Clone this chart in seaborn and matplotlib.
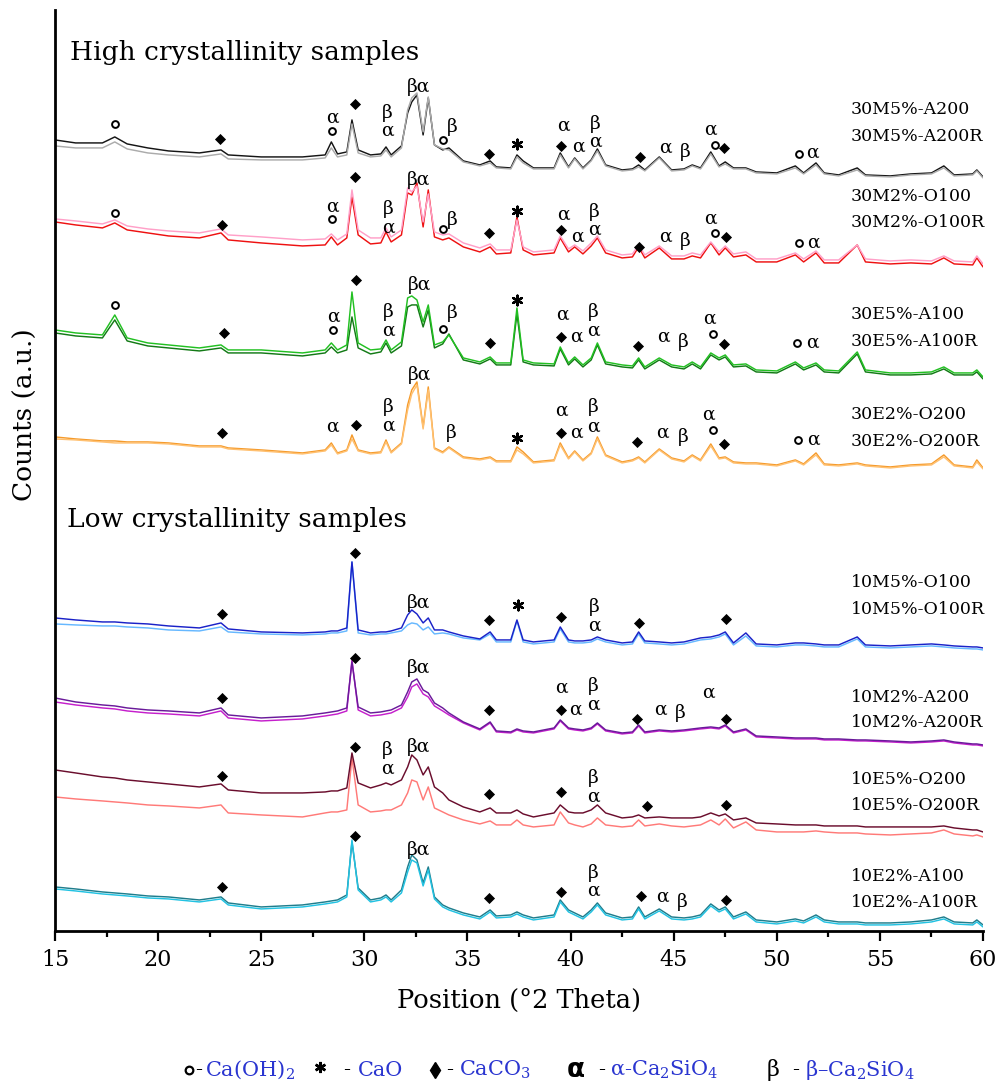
import numpy as np
import pandas as pd
import seaborn as sns
import matplotlib
matplotlib.use('Agg')
import matplotlib.pyplot as plt
from matplotlib.ticker import MultipleLocator
from matplotlib.lines import Line2D

# diffraction angle grid (deg 2 theta) shared by all traces
two_theta = [15, 16, 17.3, 17.9, 18.5, 19.5, 20.5, 22, 23.05, 23.4,
             25, 27, 28.1, 28.4, 28.7, 29.15, 29.4, 29.7, 30.3, 30.8,
             31.05, 31.3, 31.8, 32.1, 32.3, 32.55, 32.85, 33.1, 33.4, 33.8,
             34.1, 34.8, 35.6, 36.1, 36.4, 37.1, 37.4, 37.7, 38.2, 39.2,
             39.5, 39.9, 40.2, 40.6, 41.0, 41.3, 41.7, 42.5, 43.0, 43.3,
             43.6, 44.3, 44.9, 45.5, 45.9, 46.3, 46.8, 47.2, 47.5, 47.9,
             48.5, 49.0, 50.0, 50.9, 51.3, 51.9, 52.3, 53.0, 53.9, 54.3,
             55.5, 56.5, 57.5, 58.1, 58.6, 59.5, 59.7, 60]

# counts (a.u., stacked)
c_30M5_A200 = [860, 857, 857, 863, 856, 852, 849, 847, 850, 845,
               843, 843, 845, 858, 846, 848, 880, 850, 845, 846,
               853, 845, 854, 887, 898, 905, 865, 902, 855, 850,
               852, 839, 835, 839, 833, 832, 845, 839, 832, 832,
               847, 833, 842, 832, 840, 851, 835, 830, 831, 835,
               830, 843, 830, 831, 835, 832, 848, 834, 838, 832,
               832, 828, 827, 834, 827, 837, 827, 825, 832, 825,
               824, 826, 827, 834, 825, 826, 830, 823]
c_30M5_A200R = [854, 852, 852, 858, 851, 847, 845, 843, 846, 841,
                840, 840, 842, 852, 843, 845, 876, 847, 843, 844,
                850, 843, 852, 890, 902, 907, 868, 903, 855, 851,
                850, 838, 834, 837, 832, 831, 843, 837, 831, 831,
                845, 832, 841, 831, 839, 849, 834, 829, 830, 833,
                829, 842, 829, 830, 834, 831, 846, 833, 836, 831,
                831, 827, 826, 832, 826, 835, 826, 824, 830, 824,
                823, 825, 826, 832, 824, 825, 829, 822]
c_30M2_O100 = [778, 775, 772, 777, 770, 767, 764, 762, 767, 760,
               757, 754, 755, 763, 755, 762, 803, 765, 756, 757,
               768, 758, 765, 807, 805, 817, 773, 810, 763, 760,
               762, 753, 748, 753, 746, 747, 783, 750, 745, 747,
               762, 748, 753, 746, 754, 762, 747, 742, 743, 753,
               742, 752, 741, 741, 744, 742, 757, 745, 752, 743,
               745, 738, 738, 745, 738, 747, 737, 737, 755, 738,
               736, 737, 736, 742, 736, 735, 742, 733]
c_30M2_O100R = [781, 779, 776, 780, 774, 771, 769, 767, 771, 765,
                763, 760, 761, 766, 760, 766, 810, 770, 762, 762,
                772, 763, 770, 812, 808, 814, 778, 806, 768, 765,
                766, 757, 752, 756, 750, 750, 780, 753, 748, 750,
                764, 751, 755, 749, 757, 764, 750, 745, 746, 755,
                745, 754, 744, 744, 747, 745, 758, 748, 754, 746,
                748, 741, 741, 747, 741, 749, 740, 740, 755, 741,
                739, 740, 739, 744, 739, 738, 744, 736]
c_30E5_A100 = [670, 667, 665, 685, 662, 657, 655, 652, 655, 650,
               650, 647, 650, 657, 650, 655, 708, 657, 650, 651,
               660, 650, 658, 702, 704, 700, 678, 695, 655, 658,
               665, 642, 638, 643, 637, 637, 692, 640, 637, 636,
               653, 637, 643, 635, 642, 657, 638, 635, 634, 642,
               633, 642, 635, 633, 638, 633, 647, 642, 645, 635,
               636, 630, 629, 638, 632, 637, 630, 629, 648, 630,
               627, 627, 628, 633, 627, 627, 630, 623]
c_30E5_A100R = [667, 664, 662, 680, 659, 654, 652, 649, 652, 647,
                647, 644, 647, 653, 647, 650, 683, 652, 646, 648,
                657, 647, 654, 693, 695, 695, 673, 690, 652, 656,
                666, 640, 636, 641, 635, 635, 686, 638, 635, 634,
                651, 635, 641, 633, 640, 655, 636, 633, 632, 640,
                631, 640, 633, 631, 636, 631, 645, 640, 643, 633,
                634, 628, 627, 636, 630, 635, 628, 627, 646, 628,
                625, 625, 626, 631, 625, 625, 628, 621]
c_30E2_O200 = [563, 561, 559, 559, 558, 558, 557, 554, 554, 552,
               550, 547, 550, 557, 547, 550, 565, 550, 547, 548,
               560, 548, 557, 595, 610, 618, 573, 613, 552, 548,
               553, 543, 541, 543, 539, 539, 553, 548, 538, 540,
               557, 542, 549, 540, 547, 563, 545, 538, 540, 543,
               538, 551, 542, 539, 545, 540, 556, 542, 543, 538,
               537, 537, 535, 540, 536, 547, 536, 535, 537, 535,
               533, 535, 536, 545, 535, 533, 540, 532]
c_30E2_O200R = [561, 560, 558, 557, 557, 557, 556, 553, 553, 551,
                549, 546, 549, 555, 546, 549, 561, 549, 546, 547,
                558, 547, 556, 590, 606, 615, 571, 610, 551, 547,
                552, 542, 540, 542, 538, 538, 550, 546, 537, 539,
                555, 541, 548, 539, 546, 561, 544, 537, 539, 542,
                537, 550, 541, 538, 544, 539, 554, 541, 542, 537,
                536, 536, 534, 539, 535, 545, 535, 534, 536, 534,
                532, 534, 535, 543, 534, 532, 538, 531]
c_10M5_O100 = [382, 380, 378, 378, 377, 376, 374, 372, 377, 371,
               368, 367, 368, 369, 369, 372, 438, 370, 367, 368,
               368, 369, 372, 385, 390, 386, 377, 382, 370, 370,
               368, 364, 361, 368, 360, 360, 380, 360, 358, 360,
               373, 360, 359, 359, 360, 363, 360, 357, 358, 368,
               359, 358, 357, 358, 360, 362, 363, 365, 368, 357,
               367, 356, 355, 357, 357, 356, 355, 355, 363, 355,
               354, 355, 356, 355, 354, 353, 353, 352]
c_10M5_O100R = [376, 375, 374, 374, 373, 372, 370, 369, 373, 368,
                366, 365, 366, 367, 367, 369, 438, 367, 365, 366,
                366, 367, 369, 375, 377, 376, 370, 373, 366, 367,
                366, 362, 360, 366, 358, 358, 379, 358, 356, 358,
                371, 358, 357, 357, 358, 361, 358, 355, 356, 366,
                357, 356, 355, 356, 358, 360, 361, 363, 366, 355,
                364, 354, 353, 355, 355, 354, 353, 353, 361, 353,
                352, 353, 354, 353, 352, 351, 351, 350]
c_10M2_A200 = [302, 298, 295, 294, 292, 290, 289, 287, 292, 285,
               282, 284, 287, 288, 289, 292, 338, 293, 287, 288,
               289, 290, 295, 308, 318, 321, 310, 307, 297, 292,
               287, 278, 271, 278, 269, 268, 271, 269, 268, 272,
               280, 272, 271, 270, 272, 277, 270, 267, 268, 275,
               268, 270, 269, 270, 271, 272, 273, 272, 275, 268,
               271, 264, 263, 262, 262, 262, 261, 261, 260, 260,
               259, 258, 259, 260, 258, 256, 256, 255]
c_10M2_A200R = [298, 295, 292, 291, 289, 287, 286, 284, 289, 282,
                279, 281, 284, 285, 286, 289, 340, 290, 284, 285,
                286, 287, 292, 303, 313, 316, 306, 303, 294, 289,
                285, 277, 270, 277, 268, 267, 270, 268, 267, 271,
                279, 271, 270, 269, 271, 276, 269, 266, 267, 274,
                267, 269, 268, 269, 270, 271, 272, 271, 274, 267,
                270, 263, 262, 261, 261, 261, 260, 260, 259, 259,
                258, 257, 258, 259, 257, 255, 255, 254]
c_10E5_O200 = [230, 227, 223, 222, 220, 218, 216, 213, 216, 210,
               207, 207, 208, 209, 209, 212, 247, 217, 212, 215,
               217, 215, 220, 233, 245, 240, 225, 233, 213, 207,
               200, 193, 188, 192, 187, 187, 190, 186, 183, 187,
               195, 188, 187, 187, 190, 195, 187, 182, 183, 185,
               182, 183, 182, 182, 182, 183, 187, 184, 186, 180,
               182, 177, 176, 175, 175, 175, 174, 174, 174, 173,
               173, 173, 173, 174, 172, 170, 170, 168]
c_10E5_O200R = [203, 201, 199, 198, 197, 195, 194, 192, 195, 187,
                185, 183, 187, 188, 188, 190, 242, 195, 188, 189,
                190, 190, 195, 207, 220, 218, 200, 213, 192, 188,
                185, 180, 176, 179, 175, 175, 180, 175, 173, 175,
                188, 177, 175, 173, 176, 182, 175, 173, 174, 180,
                174, 176, 174, 173, 174, 175, 180, 175, 181, 172,
                178, 170, 168, 168, 168, 169, 168, 167, 167, 166,
                165, 166, 167, 170, 166, 164, 165, 163]
c_10E2_A100 = [113, 111, 108, 107, 106, 104, 103, 100, 103, 97,
               93, 95, 98, 99, 100, 105, 158, 112, 100, 102,
               105, 100, 110, 133, 145, 140, 117, 133, 103, 95,
               92, 87, 83, 90, 84, 85, 88, 85, 82, 85,
               100, 90, 87, 83, 90, 97, 87, 82, 83, 93,
               83, 91, 83, 82, 83, 85, 96, 90, 93, 83,
               88, 80, 78, 81, 79, 85, 80, 78, 78, 77,
               77, 78, 80, 83, 78, 77, 80, 75]
c_10E2_A100R = [111, 109, 106, 105, 104, 102, 101, 98, 101, 95,
                91, 93, 96, 97, 98, 103, 160, 110, 98, 100,
                103, 98, 107, 128, 140, 137, 114, 130, 101, 93,
                90, 85, 81, 88, 82, 83, 86, 83, 80, 83,
                98, 88, 85, 81, 88, 95, 85, 80, 81, 91,
                81, 89, 81, 80, 81, 83, 94, 88, 91, 81,
                86, 78, 76, 79, 77, 83, 78, 76, 76, 75,
                75, 76, 78, 81, 76, 75, 78, 73]

# phase marks: (2 theta, counts, mark)
ann_30M5 = [(17.91, 876, 'o'), (23.0, 861, 'D'), (28.45, 882, 'α'), (28.45, 869, 'o'),
            (29.55, 896, 'D'), (31.1, 887, 'β'), (31.1, 869, 'α'), (32.65, 913, 'βα'),
            (33.82, 860, 'o'), (34.25, 873, 'β'), (36.05, 846, 'D'), (37.41, 856, '*'),
            (39.64, 874, 'α'), (39.54, 854, 'D'), (40.36, 853, 'α'), (41.19, 876, 'β'),
            (41.19, 858, 'α'), (43.37, 843, 'D'), (44.58, 852, 'α'), (45.55, 848, 'β'),
            (46.77, 870, 'α'), (47.01, 855, 'o'), (47.44, 852, 'D'), (51.08, 846, 'o'),
            (51.71, 847, 'α')]
ann_30M2 = [(17.91, 787, 'o'), (23.1, 775, 'D'), (28.43, 793, 'α'), (28.43, 781, 'o'),
            (29.55, 823, 'D'), (31.15, 791, 'β'), (31.15, 772, 'α'), (32.65, 820, 'βα'),
            (33.82, 771, 'o'), (34.25, 780, 'β'), (36.05, 767, 'D'), (37.41, 789, '*'),
            (39.64, 785, 'α'), (39.54, 770, 'D'), (40.32, 763, 'α'), (41.14, 788, 'β'),
            (41.14, 770, 'α'), (43.32, 753, 'D'), (44.58, 763, 'α'), (45.55, 759, 'β'),
            (46.77, 781, 'α'), (47.01, 767, 'o'), (47.54, 763, 'D'), (51.08, 757, 'o'),
            (51.76, 757, 'α')]
ann_30E5 = [(17.91, 695, 'o'), (23.2, 667, 'D'), (28.48, 683, 'α'), (28.48, 670, 'o'),
            (29.6, 720, 'D'), (31.15, 688, 'β'), (31.15, 669, 'α'), (32.7, 715, 'βα'),
            (33.82, 671, 'o'), (34.25, 687, 'β'), (36.08, 657, 'D'), (37.41, 700, '*'),
            (39.59, 685, 'α'), (39.54, 663, 'D'), (40.27, 663, 'α'), (41.09, 688, 'β'),
            (41.09, 669, 'α'), (43.27, 654, 'D'), (44.49, 663, 'α'), (45.46, 658, 'β'),
            (46.72, 681, 'α'), (46.91, 666, 'o'), (47.44, 656, 'D'), (50.98, 657, 'o'),
            (51.71, 657, 'α')]
ann_30E2 = [(23.1, 567, 'D'), (28.43, 573, 'α'), (29.6, 575, 'D'), (31.15, 593, 'β'),
            (31.15, 574, 'α'), (32.7, 625, 'βα'), (34.2, 567, 'β'), (37.41, 562, '*'),
            (39.54, 589, 'α'), (39.54, 567, 'D'), (40.27, 567, 'α'), (41.09, 593, 'β'),
            (41.09, 573, 'α'), (43.23, 558, 'D'), (44.44, 567, 'α'), (45.46, 563, 'β'),
            (46.67, 585, 'α'), (46.91, 570, 'o'), (47.44, 556, 'D'), (51.03, 560, 'o'),
            (51.76, 560, 'α')]
ann_10M5 = [(23.1, 386, 'D'), (29.55, 447, 'D'), (32.65, 397, 'βα'), (36.05, 380, 'D'),
            (37.45, 395, '*'), (39.54, 383, 'D'), (41.14, 393, 'β'), (41.14, 374, 'α'),
            (43.32, 377, 'D'), (47.54, 381, 'D')]
ann_10M2 = [(23.1, 302, 'D'), (29.55, 342, 'D'), (32.65, 332, 'βα'), (36.05, 290, 'D'),
            (39.54, 312, 'α'), (39.54, 290, 'D'), (40.22, 290, 'α'), (41.09, 314, 'β'),
            (41.09, 295, 'α'), (43.23, 281, 'D'), (44.34, 290, 'α'), (45.31, 287, 'β'),
            (46.67, 307, 'α'), (47.54, 281, 'D')]
ann_10E5 = [(23.1, 224, 'D'), (29.55, 253, 'D'), (31.1, 250, 'β'), (31.1, 231, 'α'),
            (32.65, 253, 'βα'), (36.05, 206, 'D'), (39.54, 208, 'D'), (41.09, 222, 'β'),
            (41.09, 203, 'α'), (43.71, 194, 'D'), (47.54, 195, 'D')]
ann_10E2 = [(23.1, 113, 'D'), (29.55, 164, 'D'), (32.65, 150, 'βα'), (36.05, 102, 'D'),
            (39.54, 108, 'D'), (41.09, 127, 'β'), (41.09, 109, 'α'), (43.42, 104, 'D'),
            (44.44, 103, 'α'), (45.41, 98, 'β'), (47.54, 100, 'D')]

# sample names and label heights (counts)
sample_names = ['30M5%-A200', '30M2%-O100', '30E5%-A100', '30E2%-O200',
                '10M5%-O100', '10M2%-A200', '10E5%-O200', '10E2%-A100']
label_y = [890, 803, 685, 585, 417, 302, 220, 123]
label_y_r = [863, 777, 658, 558, 390, 277, 194, 97]

traces = [('30M5%-A200', c_30M5_A200, '#151515'), ('30M5%-A200R', c_30M5_A200R, '#ababab'),
          ('30M2%-O100', c_30M2_O100, '#ee1111'), ('30M2%-O100R', c_30M2_O100R, '#ffa0c8'),
          ('30E5%-A100R', c_30E5_A100R, '#137a16'), ('30E5%-A100', c_30E5_A100, '#22c022'),
          ('30E2%-O200', c_30E2_O200, '#f59a2a'), ('30E2%-O200R', c_30E2_O200R, '#ffc070'),
          ('10M5%-O100R', c_10M5_O100R, '#66b8ff'), ('10M5%-O100', c_10M5_O100, '#1a22c8'),
          ('10M2%-A200R', c_10M2_A200R, '#c51fcc'), ('10M2%-A200', c_10M2_A200, '#6a1a9a'),
          ('10E5%-O200R', c_10E5_O200R, '#ff7a78'), ('10E5%-O200', c_10E5_O200, '#6a0d2d'),
          ('10E2%-A100', c_10E2_A100, '#1f7d8c'), ('10E2%-A100R', c_10E2_A100R, '#22c2e2')]

frames = []
for name, vals, col in traces:
    frames.append(pd.DataFrame({'two_theta': two_theta, 'counts': vals, 'trace': name}))
df = pd.concat(frames, ignore_index=True)
palette = {name: col for name, vals, col in traces}

marks = pd.DataFrame(ann_30M5 + ann_30M2 + ann_30E5 + ann_30E2 + ann_10M5 + ann_10M2 + ann_10E5 + ann_10E2,
                     columns=['two_theta', 'counts', 'mark'])

sns.set_style('ticks')
plt.rcParams['font.family'] = ['DejaVu Serif']
plt.rcParams['mathtext.fontset'] = 'custom'
plt.rcParams['mathtext.rm'] = 'DejaVu Serif'
plt.rcParams['mathtext.default'] = 'regular'
plt.rcParams['text.color'] = 'black'
plt.rcParams['axes.labelcolor'] = 'black'
plt.rcParams['xtick.color'] = 'black'
plt.rcParams['axes.edgecolor'] = 'black'

fig = plt.figure(figsize=(9.98, 10.91), dpi=100)
ax = fig.add_axes([0.0551, 0.1467, 0.9299, 0.8442])

sns.lineplot(data=df, x='two_theta', y='counts', hue='trace', hue_order=[t[0] for t in traces],
             palette=palette, estimator=None, sort=False, legend=False, linewidth=1.05, ax=ax)

d = marks[marks['mark'] == 'D']
sns.scatterplot(data=d, x='two_theta', y='counts', marker='D', s=32, color='black',
                edgecolor='black', linewidth=0, legend=False, ax=ax, zorder=5)
o = marks[marks['mark'] == 'o']
ax.scatter(o['two_theta'], o['counts'], marker='o', s=24, facecolors='white',
           edgecolors='black', linewidths=1.4, zorder=5)
st = marks[marks['mark'] == '*']
ax.scatter(st['two_theta'], st['counts'], marker=(6, 2, 0), s=48, color='black',
           linewidths=1.7, zorder=5)
for _, r in marks[marks['mark'].isin(['α', 'β', 'βα'])].iterrows():
    ax.text(r['two_theta'], r['counts'], r['mark'], ha='center', va='center', fontsize=13.5)

for name, y1, y2 in zip(sample_names, label_y, label_y_r):
    ax.text(53.6, y1, name, fontsize=12.5, ha='left', va='center')
    ax.text(53.6, y2, name + 'R', fontsize=12.5, ha='left', va='center')

ax.text(15.73, 940, 'High crystallinity samples', fontsize=19, ha='left', va='baseline')
ax.text(15.58, 473, 'Low crystallinity samples', fontsize=19, ha='left', va='baseline')

ax.set_xlim(15, 60)
ax.set_ylim(69, 990)
ax.set_yticks([])
ax.set_xticks(range(15, 61, 5))
ax.xaxis.set_minor_locator(MultipleLocator(2.5))
ax.tick_params(axis='x', which='major', length=7, width=1.6, labelsize=16, pad=6, direction='out')
ax.tick_params(axis='x', which='minor', length=4.5, width=1.6, direction='out')
ax.set_xlabel('Position (°2 Theta)', fontsize=18.5, labelpad=12)
ax.set_ylabel('')
for s in ['top', 'right']:
    ax.spines[s].set_visible(False)
for s in ['left', 'bottom']:
    ax.spines[s].set_linewidth(2)

fig.text(25 / 998, 1 - 415 / 1091, 'Counts (a.u.)', rotation=90, fontsize=19, ha='center', va='center')

# phase key under the chart
ly = 1 - 1070 / 1091
blue = '#2a35d0'
fig.add_artist(Line2D([189 / 998], [ly], marker='o', ms=5.5, mfc='white', mec='black', mew=1.6,
                      transform=fig.transFigure))
fig.text(195 / 998, ly, '-', fontsize=15, va='center', ha='left')
fig.text(205 / 998, ly, 'Ca(OH)$_2$', fontsize=15, va='center', ha='left', color=blue)
fig.add_artist(Line2D([320 / 998], [ly + 0.003], marker=(6, 2, 0), ms=8, mec='black', mew=1.8,
                      transform=fig.transFigure))
fig.text(343 / 998, ly, '-', fontsize=15, va='center', ha='left')
fig.text(358 / 998, ly, 'CaO', fontsize=15, va='center', ha='left', color=blue)
fig.add_artist(Line2D([435 / 998], [ly], marker='d', ms=8, mfc='black', mec='black',
                      transform=fig.transFigure))
fig.text(446 / 998, ly, '-', fontsize=15, va='center', ha='left')
fig.text(459 / 998, ly, 'CaCO$_3$', fontsize=15, va='center', ha='left', color=blue)
fig.text(567 / 998, ly, 'α', fontsize=19, va='center', ha='left', family='DejaVu Sans', weight='bold')
fig.text(598 / 998, ly, '-', fontsize=15, va='center', ha='left')
fig.text(610 / 998, ly, 'α-Ca$_2$SiO$_4$', fontsize=15, va='center', ha='left', color=blue)
fig.text(767 / 998, ly, 'β', fontsize=16, va='center', ha='left')
fig.text(792 / 998, ly, '-', fontsize=15, va='center', ha='left')
fig.text(805 / 998, ly, 'β–Ca$_2$SiO$_4$', fontsize=15, va='center', ha='left', color=blue)

fig.savefig('out.png', dpi=100)
